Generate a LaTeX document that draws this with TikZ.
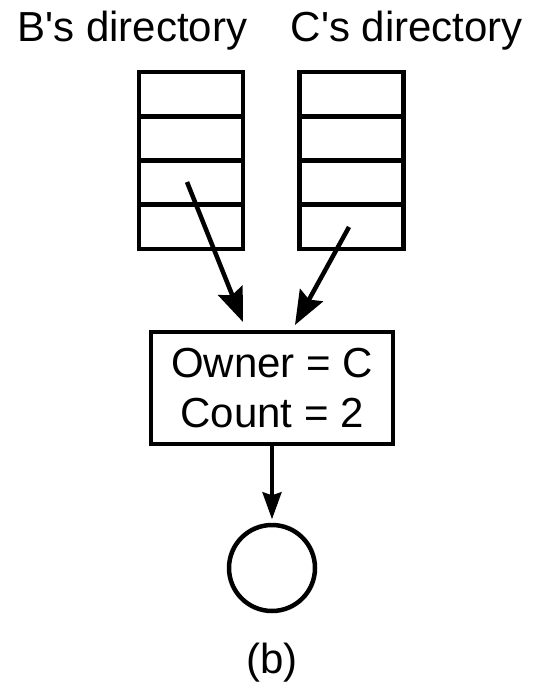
\documentclass[tikz,border=0pt]{standalone}
\usepackage{fontspec}
\setmainfont{Liberation Sans}
\usetikzlibrary{arrows.meta}
\begin{document}
\begin{tikzpicture}[x=1pt,y=-1pt,
  lbl/.style={font=\fontsize{42}{50}\selectfont, inner sep=0pt, anchor=base},
  cell/.style={draw, line width=4.5pt, minimum width=104pt, minimum height=44.25pt, inner sep=0pt, outer sep=0pt},
  ptr/.style={line width=4.5pt, -{Stealth[length=34pt,width=26pt,inset=5pt]}},
  dptr/.style={line width=3.5pt, -{Stealth[length=27pt,width=19pt,inset=3pt]}}]
\useasboundingbox (0,0) rectangle (533,685);
% labels
\node[lbl] (bl) at (132.5,42) {B\textquotesingle s directory};
\node[lbl] (cl) at (407,42) {C\textquotesingle s directory};
% directories
\node[cell] (b1) at (191,94.1) {};
\node[cell] (b2) at (191,138.4) {};
\node[cell] (b3) at (191,182.6) {};
\node[cell] (b4) at (191,226.9) {};
\node[cell] (c1) at (351.5,94.1) {};
\node[cell] (c2) at (351.5,138.4) {};
\node[cell] (c3) at (351.5,182.6) {};
\node[cell] (c4) at (351.5,226.9) {};
% inode box
\node[draw, line width=4.5pt, minimum width=242pt, minimum height=112pt, inner sep=0pt,
  align=center, font=\fontsize{42}{50}\selectfont] (box) at (272,388) {Owner = C\\Count = 2};
% file circle
\node[draw, circle, line width=4.5pt, minimum size=86pt, inner sep=0pt] (file) at (272,568) {};
\node[lbl] (cap) at (272,673) {(b)};
% arrows
\coordinate (bs) at (187,182);
\coordinate (be) at (243,322);
\coordinate (cs) at (349,227);
\coordinate (ce) at (295,325);
\draw[ptr] (bs) -- (be);
\draw[ptr] (cs) -- (ce);
\draw[dptr] (box.south) -- ++(0,73) coordinate (fe);
\end{tikzpicture}
\end{document}
